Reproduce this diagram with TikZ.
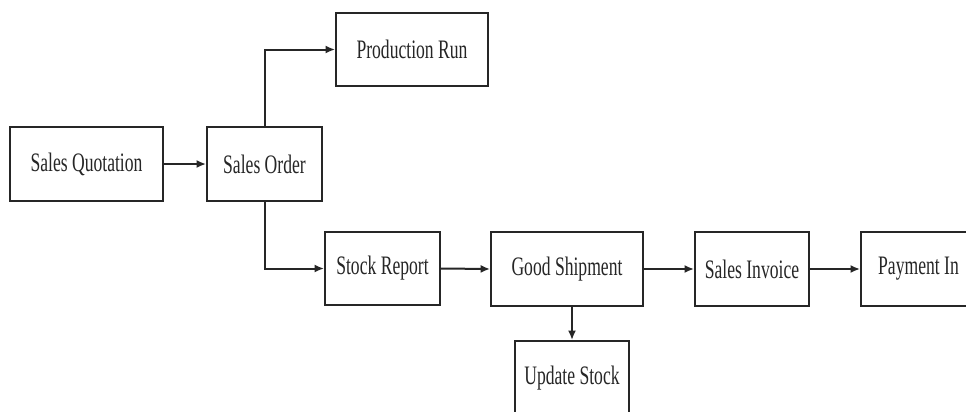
\documentclass[tikz,border=0pt]{standalone}
\usepackage{fontspec}
\setmainfont{Liberation Serif}[FakeStretch=0.66]
\usetikzlibrary{arrows.meta}
\begin{document}
\begin{tikzpicture}[x=0.75pt,y=-0.75pt,
  box/.style={draw=black!85, line width=1.5pt, fill=white, inner sep=0pt,
    font=\fontsize{20pt}{22pt}\selectfont, text=black!85},
  conn/.style={draw=black!85, line width=1.5pt, -{Latex[length=7pt,width=6pt]}}]
\useasboundingbox (0,0) rectangle (966,411);
\fill[white] (0,0) rectangle (966,411);
\clip (0,0) rectangle (966,411);
\node[box, minimum width={153*0.75pt}, minimum height={74*0.75pt}] (sq) at (86.5,164) {Sales Quotation};
\node[box, minimum width={115*0.75pt}, minimum height={74*0.75pt}] (so) at (264.5,164) {Sales Order};
\node[box, minimum width={152*0.75pt}, minimum height={73*0.75pt}] (pr) at (412,49.5) {Production Run};
\node[box, minimum width={115*0.75pt}, minimum height={73*0.75pt}] (sr) at (382.5,268.5) {Stock Report};
\node[box, minimum width={152*0.75pt}, minimum height={74*0.75pt}] (gs) at (567,269) {Good Shipment};
\node[box, minimum width={114*0.75pt}, minimum height={74*0.75pt}] (si) at (752,269) {Sales Invoice};
\node[box, minimum width={115*0.75pt}, minimum height={74*0.75pt}] (pi) at (918.5,269) {Payment In};
\node[box, minimum width={114*0.75pt}, minimum height={74*0.75pt}] (us) at (572,378) {Update Stock};
\draw[conn] (sq.east) -- (so.west);
\draw[conn] (so.north) |- (pr.west);
\draw[conn] (so.south) |- (sr.west);
\draw[conn] (sr.east) -- (gs.west);
\draw[conn] (gs.east) -- (si.west);
\draw[conn] (si.east) -- (pi.west);
\draw[conn] (us.north |- gs.south) -- (us.north);
\end{tikzpicture}
\end{document}
